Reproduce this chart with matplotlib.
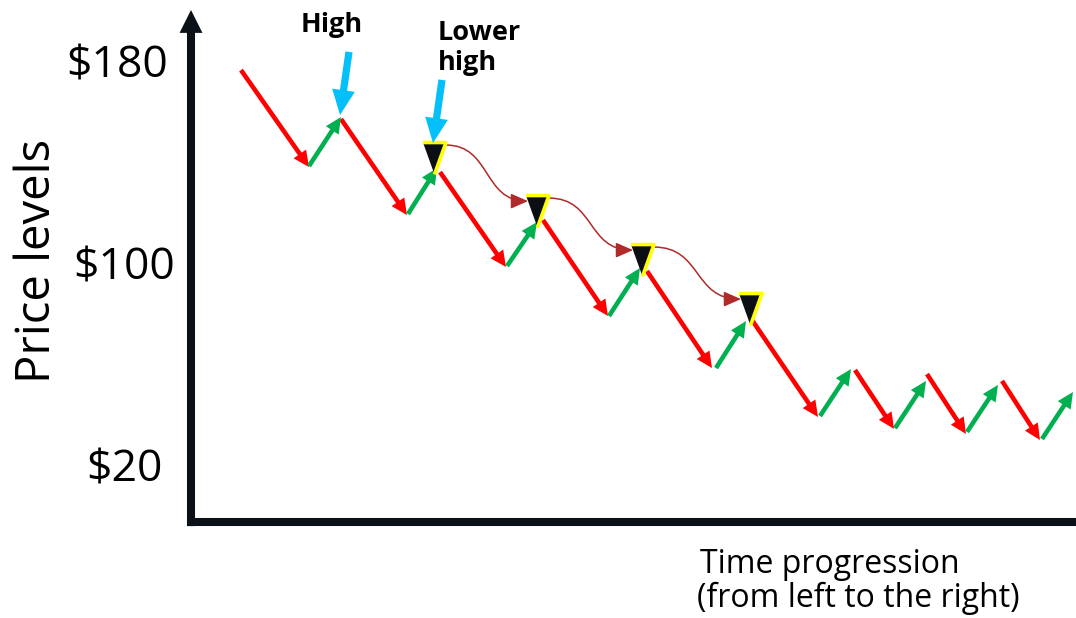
import matplotlib
matplotlib.use('Agg')
from matplotlib import pyplot as plt
from matplotlib.patches import FancyArrowPatch
from matplotlib.path import Path

plt.rcParams['font.family'] = ['Open Sans', 'DejaVu Sans']

# price axis labels
price_ticks = [180, 100, 20]
price_labels = ['$180', '$100', '$20']

# falling legs (red): start time/price -> end time/price
down_t0 = [5.1, 15.1, 25.0, 35.3, 45.7, 56.2, 66.5, 73.7, 81.2]
down_p0 = [176.8, 157.4, 136.4, 117.4, 97.2, 77.8, 58.0, 56.4, 53.7]
down_t1 = [11.9, 21.7, 31.6, 41.8, 52.2, 62.8, 70.4, 77.6, 85.0]
down_p1 = [138.4, 119.4, 98.8, 79.4, 58.8, 39.4, 34.7, 32.7, 30.3]

# rising legs (green)
up_t0 = [11.9, 21.8, 31.7, 41.9, 52.6, 63.0, 70.5, 77.7, 85.2]
up_p0 = [138.8, 119.8, 99.2, 79.4, 58.8, 39.8, 35.0, 33.5, 30.7]
up_t1 = [15.1, 24.7, 34.7, 45.0, 55.6, 66.1, 73.6, 80.8, 88.3]
up_p1 = [158.2, 138.0, 116.6, 98.4, 77.4, 58.4, 53.7, 52.1, 49.3]

# lower highs (black triangles)
lh_t = [24.4, 34.7, 45.2, 56.0]
lh_p = [142.0, 121.0, 101.6, 82.2]

# callout arrows: tail -> tip
call_t0 = [15.9, 25.2]
call_p0 = [184.0, 172.9]
call_t1 = [15.0, 24.3]
call_p1 = [159.0, 147.9]

RED = '#ff0000'
GREEN = '#00b050'
BLUE = '#05c0f8'
DARK = '#0b1118'
LINK = '#b02a2a'

fig = plt.figure(figsize=(10.76, 6.18), dpi=100)
ax = fig.add_axes([0, 0, 1, 1])
ax.set_xlim(-19, 88.6)
ax.set_ylim(-40.2, 204.55)
ax.axis('off')

# axes drawn by hand
ax.plot([-0.3, 88.6], [-2.2, -2.2], color=DARK, lw=5.8, solid_capstyle='butt', zorder=2)
ax.add_patch(FancyArrowPatch((0.1, -3.8), (0.1, 200.6),
                             arrowstyle='simple,head_length=16.5,head_width=16.5,tail_width=5.8',
                             mutation_scale=1, color=DARK, lw=0, shrinkA=0, shrinkB=0, zorder=2))

leg_style = 'simple,head_length=11.5,head_width=11,tail_width=3.3'
for t0, p0, t1, p1 in zip(down_t0, down_p0, down_t1, down_p1):
    ax.add_patch(FancyArrowPatch((t0, p0), (t1, p1), arrowstyle=leg_style, mutation_scale=1,
                                 color=RED, lw=0, shrinkA=0, shrinkB=0, zorder=3))
for t0, p0, t1, p1 in zip(up_t0, up_p0, up_t1, up_p1):
    ax.add_patch(FancyArrowPatch((t0, p0), (t1, p1), arrowstyle=leg_style, mutation_scale=1,
                                 color=GREEN, lw=0, shrinkA=0, shrinkB=0, zorder=3))

ax.plot(lh_t, lh_p, ls='none', marker=[(-0.72, 1), (0.72, 1), (0, -1)], ms=23,
        mfc='#0b0f14', mec='#ffff00', mew=2.6, zorder=4)

# wavy links between the lower highs
for i in range(len(lh_t) - 1):
    sx, sy = lh_t[i] + 1.2, lh_p[i] + 5.1
    ex, ey = lh_t[i + 1] - 0.9, lh_p[i + 1] + 3.9
    dx = ex - sx
    path = Path([(sx, sy), (sx + 0.55 * dx, sy), (ex - 0.55 * dx, ey), (ex, ey)],
                [Path.MOVETO, Path.CURVE4, Path.CURVE4, Path.CURVE4])
    ax.add_patch(FancyArrowPatch(path=path, arrowstyle='-|>,head_length=10.5,head_width=4.6',
                                 mutation_scale=1, color=LINK, lw=1.1, zorder=3))

for t0, p0, t1, p1 in zip(call_t0, call_p0, call_t1, call_p1):
    ax.add_patch(FancyArrowPatch((t0, p0), (t1, p1),
                                 arrowstyle='simple,head_length=18,head_width=16.5,tail_width=5.2',
                                 mutation_scale=1, color=BLUE, lw=0, shrinkA=0, shrinkB=0, zorder=5))

ax.text(11.1, 191.9, 'High', fontsize=19.5, fontweight='bold', ha='left', va='baseline')
ax.text(24.8, 188.7, 'Lower', fontsize=19.5, fontweight='bold', ha='left', va='baseline')
ax.text(24.8, 176.8, 'high', fontsize=19.5, fontweight='bold', ha='left', va='baseline')

tick_right = [-2.2, -1.5, -2.7]
for x, p, lab in zip(tick_right, price_ticks, price_labels):
    ax.annotate(lab, (x, p), xytext=(0, -11), textcoords='offset points',
                fontsize=32, ha='right', va='baseline')

ax.text(-15.3, 101.2, 'Price levels', fontsize=34, rotation=90, ha='center', va='center')
ax.text(51.0, -22.4, 'Time progression', fontsize=23, ha='left', va='baseline')
ax.text(50.7, -35.8, '(from left to the right)', fontsize=23, ha='left', va='baseline')

fig.savefig('out.png', dpi=100)
